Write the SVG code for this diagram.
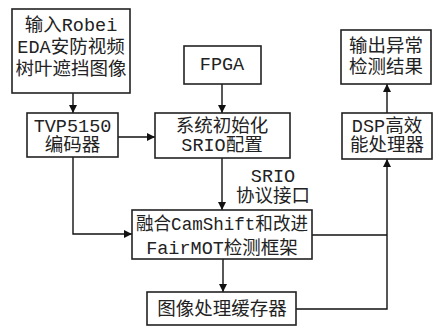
<svg xmlns="http://www.w3.org/2000/svg" width="436" height="326" viewBox="0 0 436 326">
<defs>
<marker id="ah" viewBox="0 0 10 10" refX="10" refY="5" markerWidth="8" markerHeight="8" markerUnits="userSpaceOnUse" orient="auto">
<path d="M0,0 L10,5 L0,10 z" fill="#111"/>
</marker>
<style>
.box{fill:#fff;stroke:#222;stroke-width:1.6}
.t{font-family:"Liberation Mono","Noto Sans CJK SC",monospace;font-size:18.5px;fill:#222;text-anchor:middle}
.c{fill:none;stroke:#111;stroke-width:1.4}
.a{fill:none;stroke:#111;stroke-width:1.4;marker-end:url(#ah)}
</style>
</defs>
<rect width="436" height="326" fill="#fff"/>
<g id="connectors">
<path class="a" d="M73,93 V113"/>
<path class="a" d="M222,84 V113"/>
<path class="a" d="M118,137 H155"/>
<path class="a" d="M222,158 V210"/>
<path class="a" d="M73,157 V234 H132"/>
<path class="a" d="M223,259 V292"/>
<path class="c" d="M312,235 H387"/>
<path class="a" d="M296,309 H387 V159"/>
<path class="a" d="M387,113 V84"/>
</g>
<g id="n_input">
<rect class="box" x="12" y="9" width="118" height="84"/>
<text class="t" x="71" y="31">输入Robei</text>
<text class="t" x="71" y="53">EDA安防视频</text>
<text class="t" x="71" y="75">树叶遮挡图像</text>
</g>
<g id="n_fpga">
<rect class="box" x="184" y="46" width="77" height="38"/>
<text class="t" x="222" y="70">FPGA</text>
</g>
<g id="n_output">
<rect class="box" x="341" y="30" width="90" height="54"/>
<text class="t" x="386" y="52">输出异常</text>
<text class="t" x="386" y="73">检测结果</text>
</g>
<g id="n_tvp">
<rect class="box" x="27" y="113" width="91" height="44"/>
<text class="t" x="72.5" y="132">TVP5150</text>
<text class="t" x="72.5" y="151">编码器</text>
</g>
<g id="n_sys">
<rect class="box" x="155" y="113" width="135" height="45"/>
<text class="t" x="222" y="132">系统初始化</text>
<text class="t" x="222" y="151">SRIO配置</text>
</g>
<g id="n_dsp">
<rect class="box" x="342" y="113" width="90" height="46"/>
<text class="t" x="387" y="132">DSP高效</text>
<text class="t" x="387" y="151">能处理器</text>
</g>
<g id="l_srio">
<text class="t" x="273" y="182">SRIO</text>
<text class="t" x="273" y="202">协议接口</text>
</g>
<g id="n_fusion">
<rect class="box" x="132" y="210" width="180" height="49"/>
<text class="t" x="222" y="230" textLength="172" lengthAdjust="spacingAndGlyphs">融合CamShift和改进</text>
<text class="t" x="222" y="254">FairMOT检测框架</text>
</g>
<g id="n_buffer">
<rect class="box" x="147" y="292" width="149" height="33"/>
<text class="t" x="222" y="315">图像处理缓存器</text>
</g>
</svg>
